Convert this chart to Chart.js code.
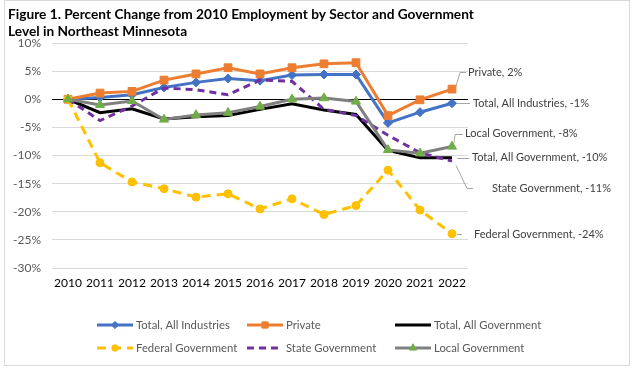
<!DOCTYPE html>
<html>
<head>
<meta charset="utf-8">
<script src="https://cdn.jsdelivr.net/npm/chart.js@4"></script>
<style>
html,body{margin:0;padding:0;background:#fff;}
#wrap{width:633px;height:371px;position:relative;}
</style>
</head>
<body>
<div id="wrap"><canvas id="c" width="633" height="371"></canvas></div>
<script>
const categories = ['2010','2011','2012','2013','2014','2015','2016','2017','2018','2019','2020','2021','2022'];
const totalAllIndustries = [0, 0.3, 0.8, 2.1, 3.0, 3.7, 3.3, 4.3, 4.4, 4.4, -4.2, -2.3, -0.7];
const privateSector      = [0, 1.1, 1.4, 3.4, 4.5, 5.6, 4.5, 5.6, 6.3, 6.5, -2.9, -0.1, 1.8];
const totalAllGovernment = [0, -2.4, -1.7, -3.5, -3.1, -2.9, -1.8, -0.8, -1.9, -2.7, -9.1, -10.4, -10.4];
const federalGovernment  = [0, -11.3, -14.7, -15.9, -17.4, -16.8, -19.5, -17.7, -20.5, -18.9, -12.6, -19.7, -23.9];
const stateGovernment    = [0, -3.8, -1.2, 2.0, 1.7, 0.8, 3.4, 3.2, -1.8, -2.9, -6.4, -9.5, -11.0];
const localGovernment    = [0, -1.0, -0.3, -3.6, -2.8, -2.4, -1.3, 0.0, 0.2, -0.4, -9.0, -9.6, -8.4];
const seriesNames = ['Total, All Industries','Private','Total, All Government','Federal Government','State Government','Local Government'];
const yTickMin = -30, yTickMax = 10, yTickStep = 5;
const titleLines = ['Figure 1. Percent Change from 2010 Employment by Sector and Government','Level in Northeast Minnesota'];

const FONT = 'Lato, "Open Sans", sans-serif';

const datasets = [
  {label: seriesNames[0], data: totalAllIndustries, borderColor:'#4472C4', backgroundColor:'#4472C4', pointStyle:'rectRot', pointRadius:4.5, pointBorderColor:'#4472C4', pointBackgroundColor:'#4472C4', order:6},
  {label: seriesNames[1], data: privateSector, borderColor:'#ED7D31', backgroundColor:'#ED7D31', pointStyle:'rect', pointRadius:5.5, pointBorderColor:'#ED7D31', pointBackgroundColor:'#ED7D31', order:5},
  {label: seriesNames[2], data: totalAllGovernment, borderColor:'#000000', backgroundColor:'#000000', pointRadius:0, order:4},
  {label: seriesNames[3], data: federalGovernment, borderColor:'#FFC000', backgroundColor:'#FFC000', borderDash:[9,6], pointStyle:'circle', pointRadius:4, pointBorderColor:'#FFC000', pointBackgroundColor:'#FFC000', order:3},
  {label: seriesNames[4], data: stateGovernment, borderColor:'#7030A0', backgroundColor:'#7030A0', borderDash:[7,5], pointRadius:0, order:2},
  {label: seriesNames[5], data: localGovernment, borderColor:'#808080', backgroundColor:'#808080', pointStyle:'triangle', pointRadius:5.2, pointBorderColor:'#70AD47', pointBackgroundColor:'#70AD47', order:1}
];
datasets.forEach(d => { d.borderWidth = 3; d.pointBorderWidth = 1; d.tension = 0; d.fill = false; d.pointHoverRadius = d.pointRadius; });

// label placement relative to the last point: text offset and leader polyline
const labelPlacement = [
  {tx:21, ty:0,  leader:[[5,0],[18,0]]},
  {tx:16, ty:-17, leader:[[4,-3],[8,-17],[14,-17]]},
  {tx:20, ty:0,  leader:[[5,0],[17,0]]},
  {tx:22, ty:0.5, leader:[[5,0],[10,0]]},
  {tx:40, ty:27, leader:[[4,4],[15,27],[21,27]]},
  {tx:13, ty:-13, leader:[[2,-4],[3,-13],[11,-13]]}
];
const legendCols = [97, 247, 395];
const legendRows = [325, 348];

const decorPlugin = {
  id: 'decor',
  beforeDraw(chart) {
    const ctx = chart.ctx;
    ctx.save();
    ctx.fillStyle = '#fff';
    ctx.fillRect(0,0,chart.width,chart.height);
    ctx.strokeStyle = '#d9d9d9';
    ctx.lineWidth = 1;
    ctx.strokeRect(4.5, 0.5, 625, 365);
    ctx.restore();
  },
  afterDraw(chart) {
    const ctx = chart.ctx;
    ctx.save();
    // title
    ctx.fillStyle = '#000';
    ctx.font = 'bold 13.7px ' + FONT;
    ctx.textAlign = 'left';
    ctx.textBaseline = 'middle';
    ctx.fillText(titleLines[0], 8, 15);
    ctx.fillText(titleLines[1], 8, 32);
    // end labels
    ctx.font = '11px ' + FONT;
    ctx.fillStyle = '#404040';
    chart.data.datasets.forEach((ds, i) => {
      const meta = chart.getDatasetMeta(i);
      const el = meta.data[meta.data.length - 1];
      const px = el.x, py = el.y;
      const pl = labelPlacement[i];
      ctx.beginPath();
      ctx.strokeStyle = '#a6a6a6';
      ctx.lineWidth = 1;
      pl.leader.forEach((p, k) => {
        const x = px + p[0], y = Math.round(py + p[1]) + 0.5;
        if (k === 0) ctx.moveTo(x, y); else ctx.lineTo(x, y);
      });
      ctx.stroke();
      const v = ds.data[ds.data.length - 1];
      ctx.fillText(ds.label + ', ' + Math.round(v) + '%', px + pl.tx, py + pl.ty);
    });
    // legend
    chart.data.datasets.forEach((ds, i) => {
      const x0 = legendCols[i % 3], y0 = legendRows[Math.floor(i / 3)];
      ctx.save();
      ctx.strokeStyle = ds.borderColor;
      ctx.lineWidth = 3;
      ctx.setLineDash(ds.borderDash || []);
      ctx.beginPath();
      ctx.moveTo(x0, y0);
      ctx.lineTo(x0 + 36, y0);
      ctx.stroke();
      ctx.setLineDash([]);
      if (ds.pointRadius > 0) {
        ctx.fillStyle = ds.pointBackgroundColor;
        ctx.strokeStyle = ds.pointBorderColor;
        ctx.lineWidth = 1;
        Chart.helpers.drawPoint(ctx, {pointStyle: ds.pointStyle, radius: ds.pointRadius * 0.8, borderWidth: 1, rotation: 0}, x0 + 18, y0);
      }
      ctx.restore();
      ctx.fillStyle = '#595959';
      ctx.font = '11.3px ' + FONT;
      ctx.textBaseline = 'middle';
      ctx.fillText(ds.label, x0 + 39, y0);
    });
    ctx.restore();
  }
};

new Chart(document.getElementById('c'), {
  type: 'line',
  data: {labels: categories, datasets: datasets},
  options: {
    responsive: false,
    animation: false,
    devicePixelRatio: 1,
    layout: {padding: {left: 8, right: 165, top: 43, bottom: 83}},
    plugins: {legend: {display: false}, tooltip: {enabled: false}, title: {display: false}},
    scales: {
      x: {
        offset: true,
        grid: {display: false, drawTicks: false},
        border: {display: false},
        ticks: {color: '#000', font: {family: FONT, size: 12}, padding: 8, maxRotation: 0, autoSkip: false},
        afterFit(s) { s.height = 20; }
      },
      y: {
        min: yTickMin, max: yTickMax,
        grid: {color: c => (c.tick && c.tick.value === 0) ? '#000000' : '#d9d9d9', lineWidth: 1, drawTicks: false},
        border: {display: false},
        ticks: {stepSize: yTickStep, color: '#595959', font: {family: FONT, size: 12}, padding: 11, callback: v => v + '%'},
        afterFit(s) { s.width = 44; }
      }
    }
  },
  plugins: [decorPlugin]
});
</script>
</body>
</html>
